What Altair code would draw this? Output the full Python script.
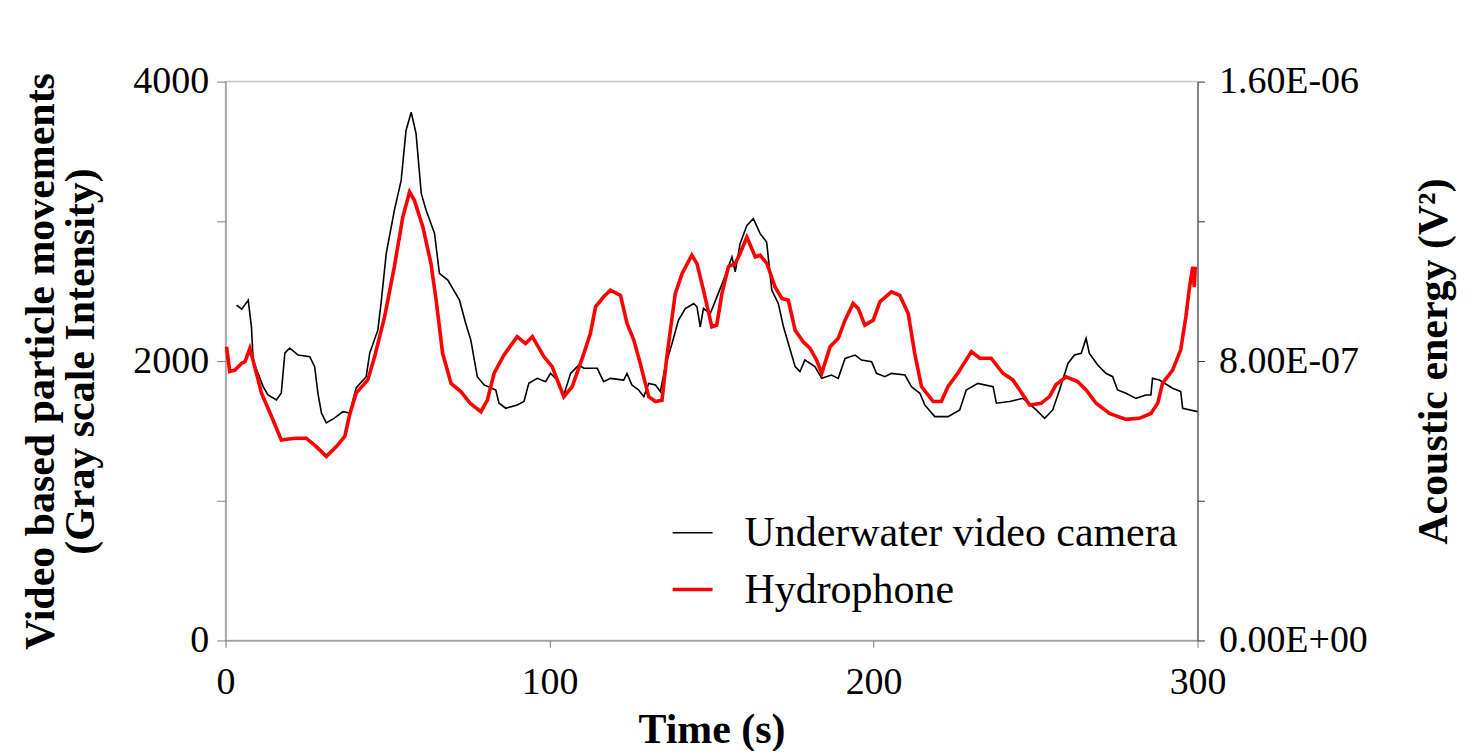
import altair as alt
import pandas as pd

# Underwater video camera (gray scale intensity)
video_time = [3.4, 5, 7, 8, 8.5, 10, 11.6, 13.1, 15.7, 17.2, 18.3, 19.8, 22.4, 26, 27.5, 28.5, 29.6, 31.1,
              33.7, 36.2, 38.3, 40.3, 43.4, 44.5, 47, 48, 49.6, 52.1, 54.2, 55.7, 57.3, 58.8, 60.4, 61.9,
              64.5, 66, 68.6, 72.2, 74, 75.7, 77.7, 79.8, 83.4, 84.4, 86.5, 90, 92.1, 93.6, 96.2, 98.8,
              100.3, 102.4, 104.4, 106.5, 109, 110.6, 114.7, 116.7, 118.8, 122.9, 123.9, 125.4, 127.5,
              129.1, 130.6, 132.7, 134.2, 135.7, 137.8, 139.8, 141.9, 144.5, 145.5, 146.5, 147.5, 149.6,
              151.5, 153.7, 156.3, 157.3, 158.8, 160.9, 162.9, 165, 167, 168.6, 170.6, 172.2, 173.7,
              175.8, 177.3, 178.8, 181.9, 184, 187, 189.1, 191.2, 194.3, 196.3, 199.4, 200.9, 203.5,
              205.5, 209.7, 211.7, 214.3, 215.8, 218.9, 223, 226.6, 228.6, 232.2, 236.9, 237.9, 242,
              246.1, 250.2, 252.8, 255.3, 257.4, 260, 262, 264.1, 265.6, 266.6, 269.2, 271.7, 273.8,
              275.3, 277.9, 281, 284, 285.6, 286.1, 288.2, 292.3, 294.8, 295.4, 300]
video_value = [2400, 2371, 2436, 2243, 2007, 1914, 1817, 1757, 1721, 1771, 2057, 2093, 2043, 2031, 1960, 1771,
               1628, 1557, 1593, 1638, 1628, 1807, 1888, 2057, 2221, 2414, 2771, 3079, 3293, 3650, 3781,
               3628, 3200, 3079, 2914, 2628, 2579, 2436, 2280, 2150, 1888, 1829, 1793, 1698, 1662, 1686,
               1710, 1840, 1876, 1852, 1912, 1864, 1757, 1912, 1971, 1948, 1948, 1852, 1876, 1864, 1912,
               1829, 1793, 1745, 1840, 1829, 1781, 1960, 2126, 2293, 2376, 2412, 2388, 2245, 2376, 2340,
               2450, 2579, 2745, 2638, 2840, 2971, 3019, 2912, 2852, 2507, 2412, 2245, 2126, 1960, 1924,
               2007, 1960, 1876, 1900, 1876, 2019, 2043, 2007, 1995, 1912, 1888, 1912, 1900, 1817, 1769,
               1686, 1602, 1602, 1650, 1793, 1840, 1817, 1698, 1710, 1733, 1650, 1590, 1650, 1793, 1983,
               2043, 2055, 2162, 2055, 1971, 1912, 1888, 1793, 1769, 1733, 1757, 1757, 1876, 1864, 1805,
               1781, 1662, 1638]

# Hydrophone (acoustic energy, V^2)
hydro_time = [0.3, 1.3, 2.9, 4.9, 6, 7.5, 9, 11.1, 14.2, 17.2, 21.4, 24.9, 28, 31.1, 34.2, 36.8, 38.3, 40.3,
              43.9, 46, 49.1, 52.1, 54.7, 56.8, 58.3, 60.9, 63.4, 65, 67, 69.6, 72.7, 75.5, 78.8, 80.8,
              82.9, 85.9, 90, 92.6, 94.7, 98.3, 100.8, 104.4, 107, 110.6, 112.6, 114.2, 116.7, 118.8,
              121.9, 123.9, 126, 128, 130.6, 132.7, 134.7, 136.2, 138.8, 140.9, 143.9, 145.5, 147.5,
              150.1, 151.6, 153.2, 155.2, 157.3, 158.8, 160.9, 163.5, 165, 167.1, 169.6, 171.7, 173.7,
              175.8, 178.3, 180.4, 182.4, 184, 186.6, 189.1, 191.2, 193.7, 195.3, 197.3, 199.9, 202,
              205.5, 208.1, 210.7, 212.7, 214.8, 218.4, 220.9, 223, 226, 230.2, 232.8, 236.3, 239.9,
              243, 248.2, 251.7, 254.3, 256.3, 259.4, 263, 265.6, 268.7, 272.8, 277.9, 282, 285.6,
              287.7, 289.2, 292.3, 294.8, 296.4, 297.4, 298.5, 299, 299.3]
hydro_energy = [8.41e-7, 7.70e-7, 7.74e-7, 7.93e-7, 7.98e-7, 8.36e-7, 7.84e-7, 7.08e-7, 6.41e-7, 5.74e-7,
                5.79e-7, 5.79e-7, 5.55e-7, 5.27e-7, 5.55e-7, 5.84e-7, 6.46e-7, 7.08e-7, 7.46e-7, 8.12e-7,
                9.27e-7, 10.70e-7, 12.12e-7, 12.84e-7, 12.60e-7, 11.84e-7, 10.79e-7, 9.74e-7, 8.22e-7,
                7.36e-7, 7.12e-7, 6.79e-7, 6.55e-7, 6.88e-7, 7.65e-7, 8.17e-7, 8.70e-7, 8.50e-7, 8.70e-7,
                8.12e-7, 7.84e-7, 6.98e-7, 7.27e-7, 8.22e-7, 8.79e-7, 9.55e-7, 9.84e-7, 10.03e-7, 9.88e-7,
                9.08e-7, 8.60e-7, 7.93e-7, 6.98e-7, 6.84e-7, 6.88e-7, 8.12e-7, 9.93e-7, 10.50e-7, 11.03e-7,
                10.79e-7, 10.03e-7, 8.98e-7, 9.03e-7, 9.93e-7, 10.70e-7, 10.79e-7, 11.08e-7, 11.55e-7,
                10.98e-7, 11.03e-7, 10.79e-7, 10.12e-7, 9.79e-7, 9.74e-7, 8.88e-7, 8.55e-7, 8.36e-7,
                8.03e-7, 7.65e-7, 8.41e-7, 8.65e-7, 9.17e-7, 9.65e-7, 9.50e-7, 9.03e-7, 9.17e-7, 9.70e-7,
                9.98e-7, 9.88e-7, 9.36e-7, 8.22e-7, 7.27e-7, 6.84e-7, 6.84e-7, 7.27e-7, 7.65e-7, 8.27e-7,
                8.08e-7, 8.08e-7, 7.65e-7, 7.46e-7, 6.74e-7, 6.79e-7, 6.98e-7, 7.32e-7, 7.55e-7, 7.41e-7,
                7.17e-7, 6.79e-7, 6.50e-7, 6.33e-7, 6.36e-7, 6.50e-7, 6.79e-7, 7.36e-7, 7.74e-7, 8.32e-7,
                9.27e-7, 10.03e-7, 10.70e-7, 10.12e-7, 10.70e-7]

series_names = ["Underwater video camera", "Hydrophone"]
x_ticks = [0, 100, 200, 300]
left_ticks = [0, 1000, 2000, 3000, 4000]
right_ticks = [0, 4e-7, 8e-7, 1.2e-6, 1.6e-6]

df = pd.concat([
    pd.DataFrame({"time": video_time, "value": video_value, "series": series_names[0]}),
    pd.DataFrame({"time": hydro_time, "value": hydro_energy, "series": series_names[1]}),
], ignore_index=True)

FONT = "Liberation Serif"

x_enc = alt.X("time:Q", scale=alt.Scale(domain=[0, 300], nice=False),
              axis=alt.Axis(values=x_ticks, title="Time (s)", format="d", grid=False,
                            domainColor="#808080", tickColor="#808080", tickSize=7,
                            labelFontSize=38, labelPadding=16, titleFontSize=42,
                            titleFontWeight="bold", titlePadding=8, labelFlush=False))

legend_kw = dict(title=None, orient="none", legendX=446, legendY=431,
                 symbolType="stroke", symbolSize=1600, labelFontSize=42,
                 labelFont=FONT, labelOffset=30, rowPadding=14, padding=0,
                 labelColor="#000000", labelLimit=0)

color_enc = alt.Color("series:N", scale=alt.Scale(domain=series_names, range=["#000000", "#ff0000"]),
                      legend=alt.Legend(**legend_kw))
sw_enc = alt.StrokeWidth("series:N", scale=alt.Scale(domain=series_names, range=[1.6, 3.6]),
                         legend=alt.Legend(**legend_kw))

video = alt.Chart(df).transform_filter(alt.datum.series == series_names[0]).mark_line().encode(
    x=x_enc,
    y=alt.Y("value:Q", scale=alt.Scale(domain=[0, 4000], nice=False),
            axis=alt.Axis(values=left_ticks, orient="left", grid=False,
                          title=["Video based particle movements", "(Gray scale Intensity)"],
                          labelExpr="datum.value % 2000 == 0 ? format(datum.value, 'd') : ''",
                          domainColor="#808080", tickColor="#808080", tickSize=9,
                          labelFontSize=38, labelPadding=8, titleFontSize=42, titleFontWeight="bold",
                          titlePadding=30, titleLineHeight=40)),
    color=color_enc,
    strokeWidth=sw_enc,
)

hydro = alt.Chart(df).transform_filter(alt.datum.series == series_names[1]).mark_line().encode(
    x=x_enc,
    y=alt.Y("value:Q", scale=alt.Scale(domain=[0, 1.6e-6], nice=False),
            axis=alt.Axis(values=right_ticks, orient="right", grid=False,
                          title="Acoustic energy (V²)",
                          labelExpr="datum.value == 0 ? '0.00E+00' : (abs(datum.value - 8e-7) < 1e-9 ? '8.00E-07' : (abs(datum.value - 1.6e-6) < 1e-9 ? '1.60E-06' : ''))",
                          domainColor="#333333", tickColor="#333333", tickSize=7,
                          labelFontSize=38, labelPadding=14, titleFontSize=42, titleFontWeight="bold",
                          titleAngle=270, titlePadding=88)),
    color=color_enc,
    strokeWidth=sw_enc,
)

chart = alt.layer(video, hydro).resolve_scale(y="independent").properties(
    width=974, height=560,
    autosize=alt.AutoSizeParams(type="none"),
    padding={"left": 218, "top": 73, "right": 270, "bottom": 110},
).configure(font=FONT).configure_view(stroke="#c8c8c8", strokeWidth=1.5).configure_axis(
    labelFont=FONT, titleFont=FONT, labelColor="#000000", titleColor="#000000"
)

chart.save("out.html", embed_options={"renderer": "svg", "actions": False})
